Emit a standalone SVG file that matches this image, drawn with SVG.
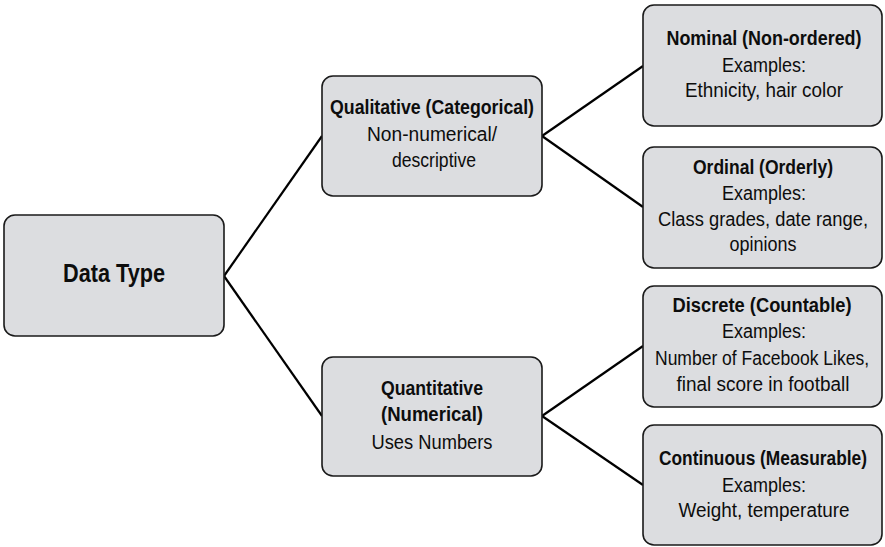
<svg xmlns="http://www.w3.org/2000/svg" width="885" height="547" viewBox="0 0 885 547">
  <style>
    .box { fill: #dcdde0; stroke: #1a1a1a; stroke-width: 1.6; }
    .link { stroke: #000; stroke-width: 2.2; fill: none; }
    text { font-family: "Liberation Sans", Arial, sans-serif; text-anchor: middle; fill: #0d0d0d; font-size: 19.5px; }
    .b { font-weight: bold; font-size: 20px; }
    .big { font-weight: bold; font-size: 25px; }
  </style>
  <rect width="885" height="547" fill="#fff"/>

  <!-- connectors -->
  <g id="connectors">
    <path class="link" d="M224,276 L322,136"/>
    <path class="link" d="M224,276 L322,416"/>
    <path class="link" d="M542,136 L643,66"/>
    <path class="link" d="M542,136 L643,207"/>
    <path class="link" d="M542,416 L643,346"/>
    <path class="link" d="M542,416 L643,485"/>
  </g>

  <!-- condensed lettering: glyphs squeezed to the set line widths -->
  <g id="data-type">
    <rect class="box" x="4" y="215" width="220" height="121" rx="11"/>
    <text class="big" x="114" y="282" textLength="102" lengthAdjust="spacingAndGlyphs">Data Type</text>
  </g>

  <g id="qualitative">
    <rect class="box" x="322" y="76" width="220" height="120" rx="11"/>
    <text class="b" x="432" y="114" textLength="204" lengthAdjust="spacingAndGlyphs">Qualitative (Categorical)</text>
    <text x="432" y="141" textLength="130" lengthAdjust="spacingAndGlyphs">Non-numerical/</text>
    <text x="434" y="167" textLength="84" lengthAdjust="spacingAndGlyphs">descriptive</text>
  </g>

  <g id="quantitative">
    <rect class="box" x="322" y="357" width="220" height="119" rx="11"/>
    <text class="b" x="432" y="395" textLength="102" lengthAdjust="spacingAndGlyphs">Quantitative</text>
    <text class="b" x="432" y="421" textLength="102" lengthAdjust="spacingAndGlyphs">(Numerical)</text>
    <text x="432" y="449" textLength="121" lengthAdjust="spacingAndGlyphs">Uses Numbers</text>
  </g>

  <g id="nominal">
    <rect class="box" x="643" y="5" width="239" height="121" rx="11"/>
    <text class="b" x="764" y="45" textLength="195" lengthAdjust="spacingAndGlyphs">Nominal (Non-ordered)</text>
    <text x="764" y="72" textLength="84" lengthAdjust="spacingAndGlyphs">Examples:</text>
    <text x="764" y="97" textLength="158" lengthAdjust="spacingAndGlyphs">Ethnicity, hair color</text>
  </g>

  <g id="ordinal">
    <rect class="box" x="643" y="147" width="239" height="121" rx="11"/>
    <text class="b" x="763" y="174" textLength="140" lengthAdjust="spacingAndGlyphs">Ordinal (Orderly)</text>
    <text x="764" y="200" textLength="84" lengthAdjust="spacingAndGlyphs">Examples:</text>
    <text x="763" y="226" textLength="210" lengthAdjust="spacingAndGlyphs">Class grades, date range,</text>
    <text x="763" y="251" textLength="67" lengthAdjust="spacingAndGlyphs">opinions</text>
  </g>

  <g id="discrete">
    <rect class="box" x="643" y="286" width="239" height="121" rx="11"/>
    <text class="b" x="762" y="312" textLength="179" lengthAdjust="spacingAndGlyphs">Discrete (Countable)</text>
    <text x="764" y="338" textLength="84" lengthAdjust="spacingAndGlyphs">Examples:</text>
    <text x="762" y="365" textLength="214" lengthAdjust="spacingAndGlyphs">Number of Facebook Likes,</text>
    <text x="763" y="391" textLength="173" lengthAdjust="spacingAndGlyphs">final score in football</text>
  </g>

  <g id="continuous">
    <rect class="box" x="643" y="425" width="239" height="120" rx="11"/>
    <text class="b" x="763" y="465" textLength="208" lengthAdjust="spacingAndGlyphs">Continuous (Measurable)</text>
    <text x="764" y="492" textLength="84" lengthAdjust="spacingAndGlyphs">Examples:</text>
    <text x="764" y="517" textLength="171" lengthAdjust="spacingAndGlyphs">Weight, temperature</text>
  </g>
</svg>
